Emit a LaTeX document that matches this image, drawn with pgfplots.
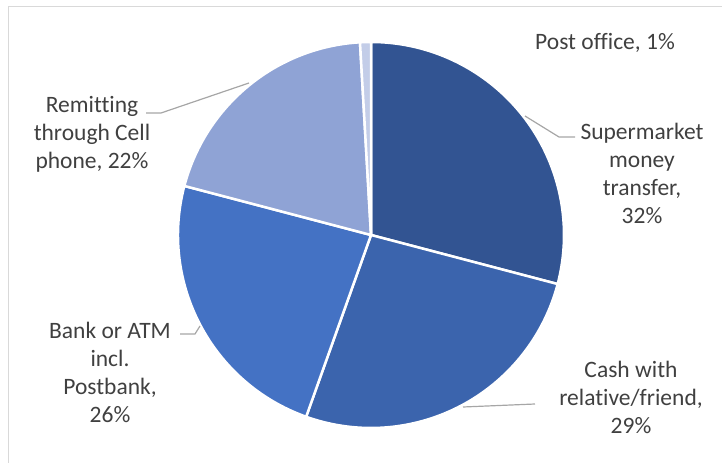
\documentclass[border=0pt]{standalone}
\usepackage{pgfplots}
\pgfplotsset{compat=1.18}
\usepackage{pgfplotstable}
\usepackage{fontspec}
\setmainfont{Carlito}[Ligatures=NoCommon]

\definecolor{slice0}{HTML}{325492}
\definecolor{slice1}{HTML}{3B64AD}
\definecolor{slice2}{HTML}{4472C4}
\definecolor{slice3}{HTML}{8FA3D5}
\definecolor{slice4}{HTML}{C3CDE8}
\definecolor{labeltxt}{HTML}{404040}
\definecolor{leader}{HTML}{A6A6A6}
\definecolor{frame}{HTML}{D9D9D9}

% shares as printed on the chart (they add up to 110)
\pgfplotstableread{
label value
Supermarket 32
Cash 29
Bank 26
Remitting 22
Post 1
}\piedata

\begin{document}
\begin{tikzpicture}
\def\pietotal{0}
\pgfplotstableforeachcolumnelement{value}\of\piedata\as\v{%
  \pgfmathsetmacro\tmp{\pietotal+\v}\xdef\pietotal{\tmp}}
\begin{axis}[
    scale only axis,
    width=722bp, height=463bp,
    xmin=0, xmax=722, ymin=0, ymax=463,
    hide axis,
    clip=false,
]
% chart frame (left and top edges visible)
\draw[frame, line width=1bp] (axis cs:8,0) -- (axis cs:8,456) -- (axis cs:722,456);

% slices, clockwise from 12 o'clock
\xdef\a{90}
\pgfplotstableforeachcolumnelement{value}\of\piedata\as\v{%
  \pgfmathsetmacro\b{\a-\v*360/\pietotal}%
  \edef\cmd{\noexpand\fill[fill=slice\pgfplotstablerow, draw=white, line width=2.5bp]
    (axis cs:371,228) -- ++(\a:193bp) arc[start angle=\a, end angle=\b, radius=193bp] -- cycle;}%
  \cmd
  \xdef\a{\b}}

% leader lines
\draw[leader, line width=1.2bp] (axis cs:525,347) -- (axis cs:559,326) -- (axis cs:575,326);
\draw[leader, line width=1.2bp] (axis cs:249,380) -- (axis cs:161,350) -- (axis cs:146,350);
\draw[leader, line width=1.2bp] (axis cs:200,137) -- (axis cs:195,129) -- (axis cs:180,129);
\draw[leader, line width=1.2bp] (axis cs:463,56) -- (axis cs:535,59);

% data labels
\tikzset{lbl/.style={text=labeltxt, align=center, inner sep=0pt,
    font={\fontsize{23.5bp}{28bp}\selectfont}}}
\node[lbl] at (axis cs:605,420) {Post office, 1\%};
\node[lbl] at (axis cs:642,290) {Supermarket\\money\\transfer,\\32\%};
\node[lbl] at (axis cs:631,66) {Cash with\\relative/friend,\\29\%};
\node[lbl] at (axis cs:110,91) {Bank or ATM\\incl.\\Postbank,\\26\%};
\node[lbl] at (axis cs:92,329) {Remitting\\through Cell\\phone, 22\%};
\end{axis}
\pgfresetboundingbox
\path (0,0) rectangle (722bp,463bp);
\end{tikzpicture}
\end{document}
